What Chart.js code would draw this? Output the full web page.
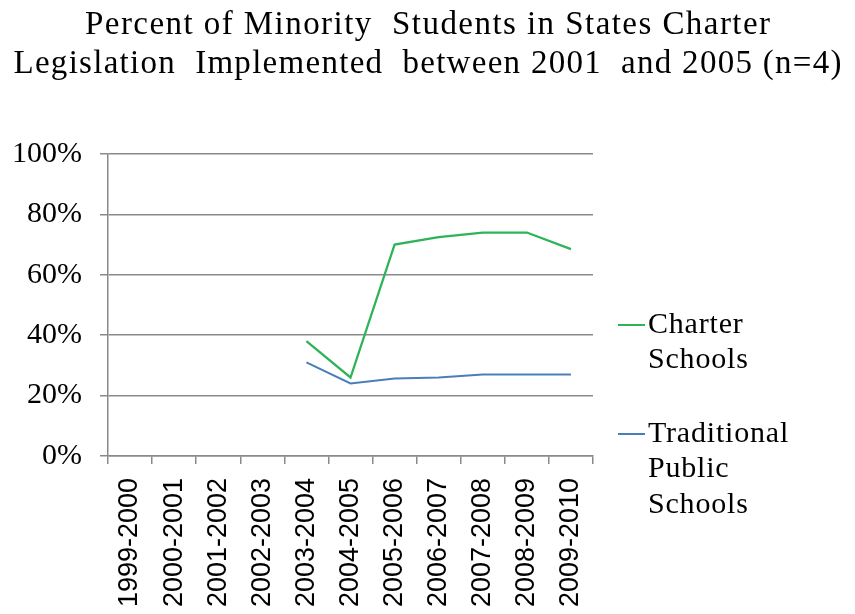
<!DOCTYPE html>
<html>
<head>
<meta charset="utf-8">
<script src="https://cdn.jsdelivr.net/npm/chart.js@4/dist/chart.umd.min.js"></script>
<style>
  html, body { margin: 0; padding: 0; background: #ffffff; }
  #wrap { width: 855px; height: 614px; }
</style>
</head>
<body>
<div id="wrap"><canvas id="c" width="855" height="614"></canvas></div>
<script>
const categories = ['1999-2000','2000-2001','2001-2002','2002-2003','2003-2004','2004-2005','2005-2006','2006-2007','2007-2008','2008-2009','2009-2010'];
const charterSchools = [null, null, null, null, 38, 26, 70, 72.5, 74, 74, 68.5];
const traditionalSchools = [null, null, null, null, 31, 24, 25.7, 26, 27, 27, 27];
const seriesNames = ['Charter Schools', 'Traditional Public Schools'];
const yTicks = [0, 20, 40, 60, 80, 100];
const titleLines = ['Percent of Minority  Students in States Charter', 'Legislation  Implemented  between 2001  and 2005 (n=4)'];

const SERIF = '"Liberation Serif", "Times New Roman", serif';
const SANS = '"Liberation Sans", Arial, sans-serif';
const GRID = '#8a8a8a';

// Title drawn across the full canvas width (styling: baselines and target line widths)
const titlePlugin = {
  id: 'fullTitle',
  afterDraw(chart) {
    const ctx = chart.ctx;
    const baselines = [34, 73];
    const widths = [685, 828];
    ctx.save();
    ctx.font = '33px ' + SERIF;
    ctx.fillStyle = '#000';
    ctx.textBaseline = 'alphabetic';
    ctx.textAlign = 'left';
    titleLines.forEach((t, i) => {
      ctx.letterSpacing = '0px';
      const w = ctx.measureText(t).width;
      const ls = Math.max(0, (widths[i] - w) / (t.length - 1));
      ctx.letterSpacing = ls + 'px';
      const x = (chart.width - widths[i]) / 2;
      ctx.fillText(t, x, baselines[i]);
    });
    ctx.restore();
  }
};

const legendPlugin = {
  id: 'wrapLegend',
  afterDraw(chart) {
    const ctx = chart.ctx;
    const x0 = chart.chartArea.right + 25;
    const lineH = 35.5;
    const starts = [325, 434];
    ctx.save();
    ctx.font = '30px ' + SERIF;
    ctx.letterSpacing = '0.8px';
    ctx.textBaseline = 'middle';
    ctx.textAlign = 'left';
    chart.data.datasets.forEach((ds, i) => {
      const words = ds.label.split(' ');
      const lines = [];
      let cur = '';
      words.forEach(w => {
        const t = cur ? cur + ' ' + w : w;
        if (cur && ctx.measureText(t).width > 150) { lines.push(cur); cur = w; } else { cur = t; }
      });
      if (cur) lines.push(cur);
      const y = starts[i];
      ctx.strokeStyle = ds.borderColor;
      ctx.lineWidth = 2;
      ctx.beginPath();
      ctx.moveTo(x0, y);
      ctx.lineTo(x0 + 27, y);
      ctx.stroke();
      ctx.fillStyle = '#000';
      lines.forEach((ln, k) => ctx.fillText(ln, x0 + 30, y + k * lineH));
    });
    ctx.restore();
  }
};

new Chart(document.getElementById('c'), {
  type: 'line',
  data: {
    labels: categories,
    datasets: [
      { label: seriesNames[0], data: charterSchools, borderColor: '#2fb359', backgroundColor: '#2fb359', borderWidth: 2.25, pointRadius: 0, tension: 0, spanGaps: false },
      { label: seriesNames[1], data: traditionalSchools, borderColor: '#4a7ebb', backgroundColor: '#4a7ebb', borderWidth: 2, pointRadius: 0, tension: 0, spanGaps: false }
    ]
  },
  options: {
    responsive: false,
    animation: false,
    layout: { padding: { left: 0, right: 262, top: 154, bottom: 0 } },
    plugins: {
      legend: { display: false },
      tooltip: { enabled: false },
      title: { display: false }
    },
    scales: {
      x: {
        offset: true,
        grid: { display: true, drawOnChartArea: false, drawTicks: true, tickLength: 8, color: GRID, lineWidth: 1.5, offset: true },
        border: { display: true, color: GRID, width: 1.5 },
        ticks: { color: '#000', font: { family: SANS, size: 27 }, maxRotation: 90, minRotation: 90, autoSkip: false, padding: 14 },
        afterFit(scale) { scale.height = 158; }
      },
      y: {
        min: 0, max: 100,
        afterBuildTicks(scale) { scale.ticks = yTicks.map(v => ({ value: v })); },
        grid: { color: GRID, lineWidth: 1.5, tickLength: 8, drawTicks: true },
        border: { display: true, color: GRID, width: 1.5 },
        ticks: { color: '#000', font: { family: SERIF, size: 30 }, padding: 18, callback: v => v + '%' },
        afterFit(scale) { scale.width = 108; }
      }
    }
  },
  plugins: [titlePlugin, legendPlugin]
});
</script>
</body>
</html>
